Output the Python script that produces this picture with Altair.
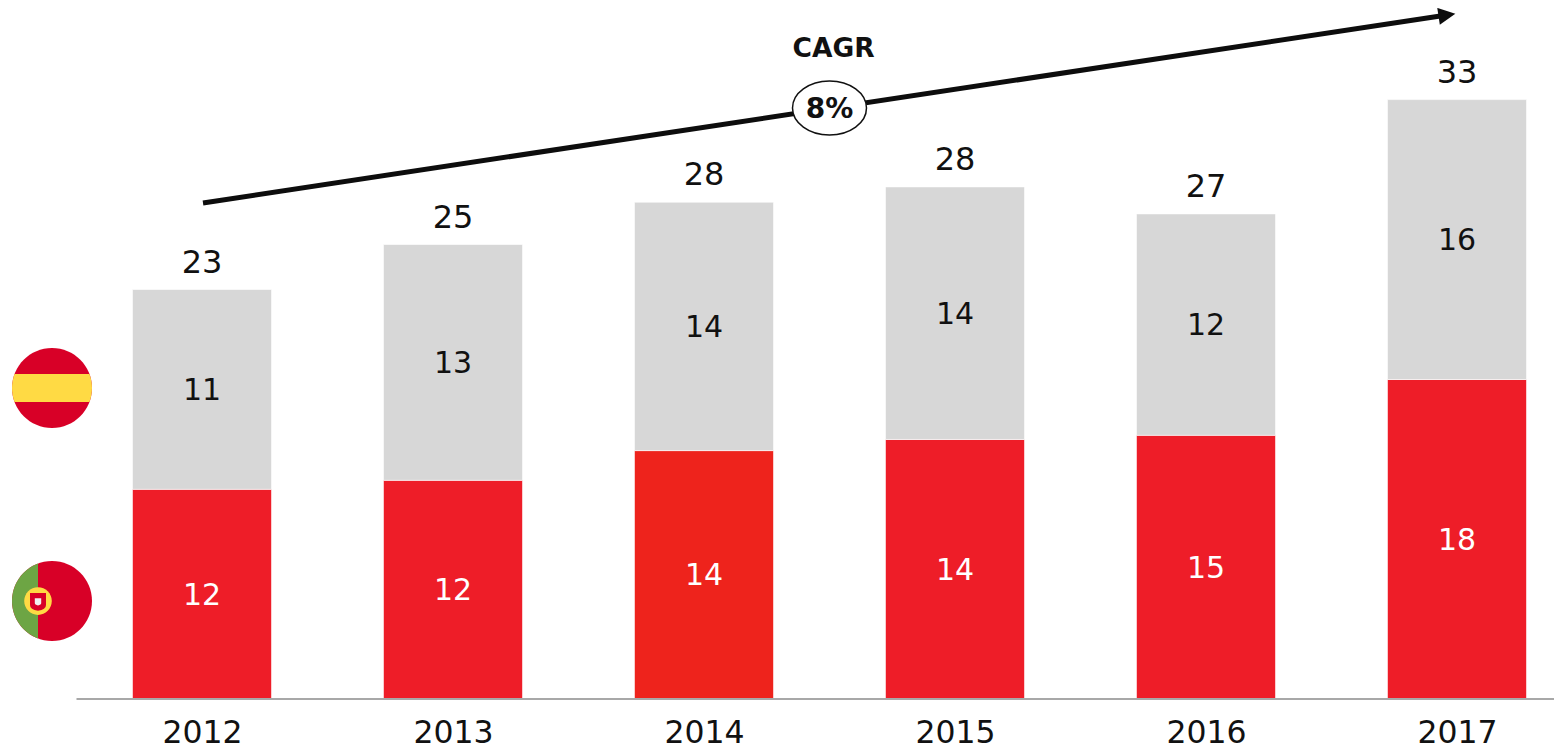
import altair as alt
import pandas as pd

years = [2012, 2013, 2014, 2015, 2016, 2017]
portugal = [11.65, 12.15, 13.8, 14.42, 14.65, 17.75]
spain = [11.1, 13.1, 13.8, 14.03, 12.3, 15.55]
portugal_labels = ["12", "12", "14", "14", "15", "18"]
spain_labels = ["11", "13", "14", "14", "12", "16"]
total_labels = ["23", "25", "28", "28", "27", "33"]
red_colors = ["#EE1D28", "#EE1D28", "#EE231C", "#EE1D28", "#EE1D28", "#EE1D28"]

X_DOM = [2011.2271, 2017.3865]
Y_DOM = [0, 38.39]
FONT = "DejaVu Sans"
INK = "#111111"

rows = []
for i, yr in enumerate(years):
    p, s = portugal[i], spain[i]
    rows.append(dict(year=yr, x0=yr - 0.277, x1=yr + 0.277, y0=0, y1=p, mid=p / 2,
                     label=portugal_labels[i], color=red_colors[i], txt="#ffffff"))
    rows.append(dict(year=yr, x0=yr - 0.277, x1=yr + 0.277, y0=p, y1=p + s, mid=p + s / 2,
                     label=spain_labels[i], color="#D7D7D7", txt=INK))
seg = pd.DataFrame(rows)
tot = pd.DataFrame(dict(year=years, top=[a + b for a, b in zip(portugal, spain)], label=total_labels))

xs = alt.Scale(domain=X_DOM, nice=False, zero=False)
ys = alt.Scale(domain=Y_DOM, nice=False, zero=False)
X = lambda f: alt.X(f, type="quantitative", scale=xs, title=None,
                    axis=alt.Axis(values=years, format="d", grid=False, domain=False, ticks=False,
                                  labelFont=FONT, labelFontSize=31.5, labelColor=INK, labelPadding=18,
                                  labelFlush=False, labelOverlap=False))
Y = lambda f: alt.Y(f, type="quantitative", scale=ys, axis=None)
XP = lambda f: alt.X(f, type="quantitative", scale=xs)

bars = alt.Chart(seg).mark_rect(stroke="#ffffff", strokeWidth=0.6).encode(
    x=X("x0"), x2="x1", y=Y("y0"), y2="y1", color=alt.Color("color:N", scale=None))
inner = alt.Chart(seg).mark_text(font=FONT, fontSize=30, baseline="middle", align="center", dy=1.5).encode(
    x=XP("year"), y=Y("mid"), text="label:N", color=alt.Color("txt:N", scale=None))
totals = alt.Chart(tot).mark_text(font=FONT, fontSize=32, baseline="middle", align="center", dy=-27, color=INK).encode(
    x=XP("year"), y=Y("top"), text="label:N")

axis_line = alt.Chart(pd.DataFrame(dict(a=[2011.5], b=[X_DOM[1]], y=[0]))).mark_rule(
    color="#A8A8A8", strokeWidth=2).encode(x=XP("a"), x2="b", y=Y("y"))

arrow_df = pd.DataFrame(dict(x=[2012.004, 2016.96], y=[27.56, 38.0]))
arrow = alt.Chart(arrow_df).mark_line(color="#0D0D0D", strokeWidth=5).encode(x=XP("x"), y=Y("y"))
head = alt.Chart(pd.DataFrame(dict(x=[2016.96], y=[38.0]))).mark_point(
    shape="M-1 -1 L1 0 L-1 1 Z", size=289, filled=True, color="#0D0D0D", opacity=1, angle=351.4, strokeWidth=0
).encode(x=XP("x"), y=Y("y"))

oval = alt.Chart(pd.DataFrame(dict(x=[2014.5],y=[32.83]))).mark_point(
    shape="M-1 0 A1 0.73 0 1 1 1 0 A1 0.73 0 1 1 -1 0 Z", size=5476, filled=True, fill="#ffffff",
    stroke="#111111", strokeWidth=1.5, opacity=1).encode(x=XP("x"), y=Y("y"))
pct = alt.Chart(pd.DataFrame(dict(x=[2014.5], y=[32.83], t=["8%"]))).mark_text(
    font=FONT, fontSize=28, fontWeight="bold", color=INK, baseline="middle", align="center", dy=1.5
).encode(x=XP("x"), y=Y("y"), text="t:N")
cagr = alt.Chart(pd.DataFrame(dict(x=[2014.516], y=[36.09], t=["CAGR"]))).mark_text(
    font=FONT, fontSize=26.5, fontWeight="bold", color=INK, baseline="middle", align="center"
).encode(x=XP("x"), y=Y("y"), text="t:N")

FX = 2011.4024
ES_Y, PT_Y = 17.28, 5.44
def flag(y, shape, color):
    return alt.Chart(pd.DataFrame(dict(x=[FX], y=[y]))).mark_point(
        shape=shape, size=6400, filled=True, color=color, opacity=1, strokeWidth=0
    ).encode(x=XP("x"), y=Y("y"))

CIRCLE = "M-1 0 A1 1 0 1 1 1 0 A1 1 0 1 1 -1 0 Z"
flags = [
    flag(ES_Y, CIRCLE, "#D80027"),
    flag(ES_Y, "M-0.9367 -0.35 A1 1 0 0 0 -0.9367 0.35 L0.9367 0.35 A1 1 0 0 0 0.9367 -0.35 Z", "#FFDA44"),
    flag(PT_Y, CIRCLE, "#D80027"),
    flag(PT_Y, "M-0.35 -0.9367 A1 1 0 0 0 -0.35 0.9367 Z", "#6DA544"),
    flag(PT_Y, "M-0.695 0 A0.345 0.345 0 1 1 -0.005 0 A0.345 0.345 0 1 1 -0.695 0 Z", "#FFDA44"),
    flag(PT_Y, "M-0.55 -0.2 L-0.15 -0.2 L-0.15 0.1 Q-0.15 0.22 -0.35 0.24 Q-0.55 0.22 -0.55 0.1 Z", "#D80027"),
    flag(PT_Y, "M-0.43 -0.07 L-0.27 -0.07 L-0.27 0.05 Q-0.27 0.1 -0.35 0.11 Q-0.43 0.1 -0.43 0.05 Z", "#F0F0F0"),
]

chart = alt.layer(bars, axis_line, inner, totals, arrow, head, oval, pct, cagr, *flags).properties(
    width=1546, height=691,
    padding={"left": 0, "top": 0, "right": 0, "bottom": 50},
    autosize=alt.AutoSizeParams(type="none"),
    background="#ffffff",
).configure_view(stroke=None)

chart.save("out.html", embed_options={"renderer": "svg", "actions": False})
